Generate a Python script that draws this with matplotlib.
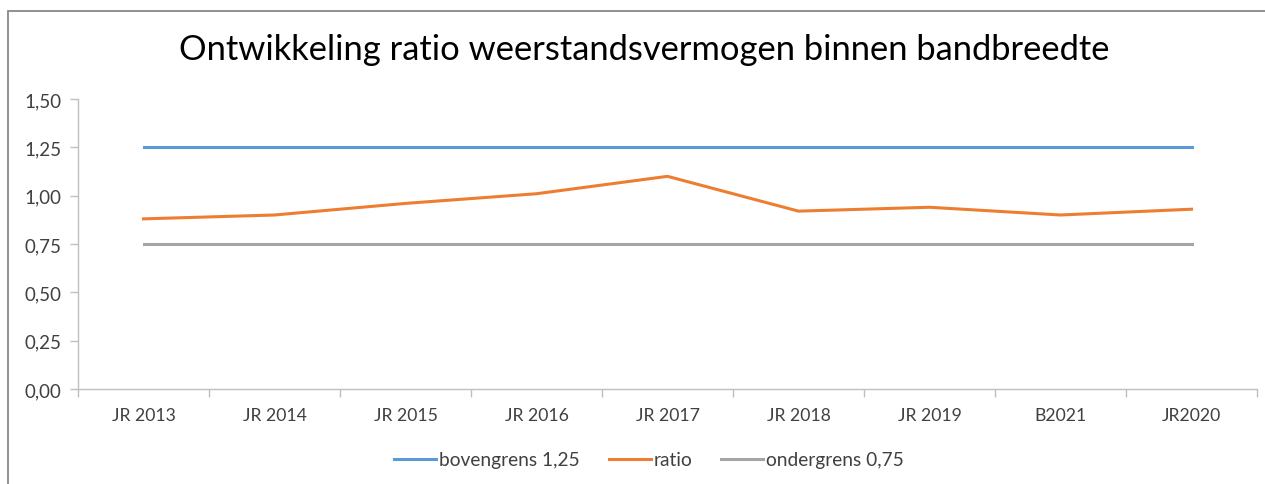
import matplotlib
matplotlib.use("Agg")
import matplotlib.pyplot as plt
import matplotlib.patches as mpatches
import numpy as np

categories = ["JR 2013", "JR 2014", "JR 2015", "JR 2016", "JR 2017",
              "JR 2018", "JR 2019", "B2021", "JR2020"]
bovengrens = [1.25] * 9
ratio = [0.88, 0.90, 0.96, 1.01, 1.10, 0.92, 0.94, 0.90, 0.93]
ondergrens = [0.75] * 9
yticks = [0.0, 0.25, 0.5, 0.75, 1.0, 1.25, 1.5]

W, H = 1265, 485
fig = plt.figure(figsize=(W / 100, H / 100), dpi=100)
plt.rcParams["font.family"] = ["Lato", "DejaVu Sans"]

# outer chart border (Excel style)
fig.add_artist(mpatches.Rectangle((8 / W, -0.01), 1.2, 1 - 12 / H + 0.01,
                                  transform=fig.transFigure, fill=False,
                                  edgecolor="#888888", lw=1.3))

ax = fig.add_axes([78 / W, 1 - 390 / H, (1257 - 78) / W, (390 - 100) / H])
x = np.arange(len(categories))
ax.plot(x, bovengrens, color="#5B9BD5", lw=2.2, label="bovengrens 1,25")
ax.plot(x, ratio, color="#ED7D31", lw=2.2, label="ratio")
ax.plot(x, ondergrens, color="#A5A5A5", lw=2.2, label="ondergrens 0,75")

ax.set_xlim(-0.5, len(categories) - 0.5)
ax.set_ylim(0, 1.5)
ax.set_yticks(yticks)
ax.set_yticklabels([f"{v:.2f}".replace(".", ",") for v in yticks])
ax.set_xticks(x)
ax.set_xticklabels(categories)
ax.set_xticks(np.arange(-0.5, len(categories)), minor=True)
ax.tick_params(axis="x", which="major", length=0, pad=13, labelsize=12.7,
               labelcolor="#404040")
ax.tick_params(axis="x", which="minor", length=6, color="#BFBFBF", width=1)
ax.tick_params(axis="y", length=6, color="#BFBFBF", width=1, pad=6,
               labelsize=13.5, labelcolor="#404040")

for s in ["top", "right"]:
    ax.spines[s].set_visible(False)
for s in ["left", "bottom"]:
    ax.spines[s].set_color("#BFBFBF")
    ax.spines[s].set_linewidth(1)

fig.text(644 / W, 1 - 50 / H, "Ontwikkeling ratio weerstandsvermogen binnen bandbreedte",
         ha="center", va="center", fontsize=24.8, color="#000000")

fig.legend(loc="center", bbox_to_anchor=(649 / W, 1 - 461 / H), ncol=3,
           frameon=False, fontsize=13.8, handlelength=2.2, handletextpad=0.15,
           columnspacing=1.5, labelcolor="#404040")

fig.savefig("out.png", dpi=100)
